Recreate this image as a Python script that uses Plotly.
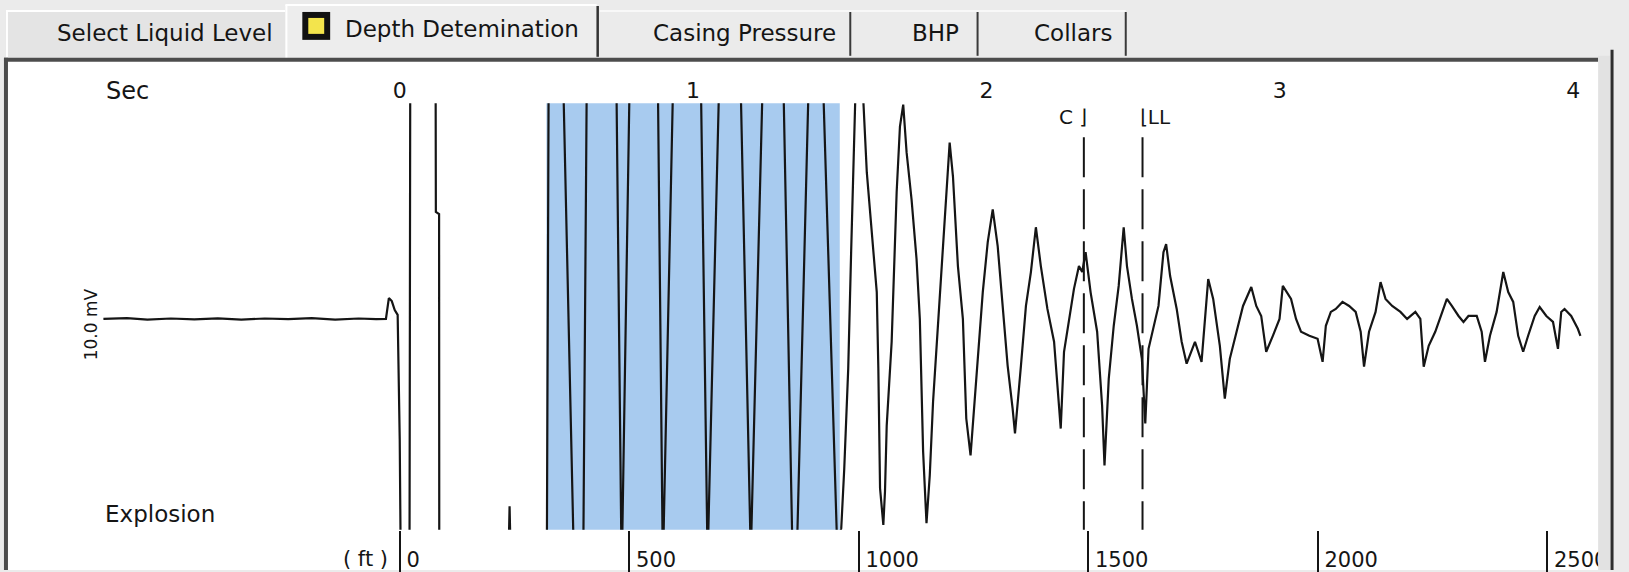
import plotly.graph_objects as go

W, H = 1629, 572

# ---------------- data ----------------
time_s = [
    -1.010, -0.930, -0.860, -0.780, -0.700, -0.620, -0.540, -0.460, -0.380, -0.300,
    -0.220, -0.140, -0.080, -0.047,
    -0.037, -0.027, -0.017, -0.007, 0.000, 0.005,
    0.020, 0.0335, 0.0358, 0.080, 0.1225, 0.1232, 0.1342, 0.1348,
    0.250, 0.372, 0.3745, 0.377, 0.440,
    0.5017, 0.5075, 0.533, 0.5583, 0.5922, 0.609, 0.6261, 0.6373, 0.688, 0.7390,
    0.7545, 0.7565, 0.7585, 0.7831, 0.832, 0.8803, 0.8960, 0.8973, 0.8990, 0.9312,
    0.979, 1.0271, 1.0485, 1.0498, 1.0512, 1.0881, 1.125, 1.1627, 1.1955, 1.1966,
    1.1980, 1.2363, 1.272, 1.3085, 1.3380, 1.3465, 1.3549, 1.3932, 1.419, 1.4441,
    1.4905, 1.4950,
    1.5051, 1.5153, 1.5288, 1.5390, 1.5525, 1.5660, 1.5807, 1.5922, 1.6034, 1.6146,
    1.6261, 1.6315, 1.6373, 1.6485,
    1.6542, 1.6600, 1.6769, 1.6939, 1.7051, 1.7163,
    1.7278, 1.7447, 1.7617, 1.7729, 1.7841, 1.7956,
    1.8068, 1.8180, 1.8349, 1.8519, 1.8634, 1.8746,
    1.8858, 1.9027, 1.9197, 1.9312, 1.9458,
    1.9536, 1.9705, 1.9875, 2.0044, 2.0214,
    2.0383, 2.0553, 2.0722, 2.0892, 2.0973,
    2.1176, 2.1346, 2.1515, 2.1685,
    2.1854, 2.2078, 2.2305, 2.2475, 2.2532,
    2.2644, 2.2814, 2.2983, 2.3153, 2.3264, 2.3380,
    2.3549, 2.3773, 2.3942, 2.4024,
    2.4169, 2.4339, 2.4508, 2.4678,
    2.4790, 2.4959, 2.5129, 2.5298, 2.5414,
    2.5525, 2.5695, 2.5864, 2.6034, 2.6125,
    2.6261, 2.6485, 2.6654, 2.6824, 2.7108, 2.7332, 2.7559, 2.7729, 2.7956, 2.8125,
    2.8295, 2.8519, 2.8746, 2.9027, 2.9197, 2.9366, 2.9536, 2.9763, 2.9990, 3.0102,
    3.0383, 3.0553, 3.0722, 3.1007, 3.1288, 3.1458, 3.1569, 3.1739, 3.1908, 3.2136,
    3.2363, 3.2586, 3.2756, 3.2871, 3.3041, 3.3264, 3.3434, 3.3603, 3.3831, 3.4112,
    3.4339, 3.4620, 3.4790, 3.4905, 3.5075, 3.5298, 3.5525, 3.5695, 3.5864, 3.6092,
    3.6261, 3.6431, 3.6712, 3.6881, 3.6993, 3.7163, 3.7390, 3.7617, 3.7786, 3.7956,
    3.8125, 3.8295, 3.8464, 3.8688, 3.8858, 3.9085, 3.9312, 3.9481, 3.9593, 3.9705,
    3.9932, 4.0159, 4.0247,
]
signal_mv = [
    -0.12, -0.08, -0.15, -0.10, -0.14, -0.09, -0.15, -0.10, -0.13, -0.08,
    -0.15, -0.10, -0.13, -0.12,
    0.86, 0.72, 0.30, 0.07, -5.75, -14.0,
    -16.0, -10.5, 10.5, 16.0, 10.5, 4.9, 4.8, -10.5,
    -16.0, -10.5, -8.9, -10.5, -16.0,
    -10.5, 10.5, 16.0, 10.5, -10.5, -16.0, -10.5, 10.5, 16.0, 10.5,
    -10.5, -12.0, -10.5, 10.5, 16.0, 10.5, -10.5, -12.0, -10.5, 10.5,
    16.0, 10.5, -10.5, -12.0, -10.5, 10.5, 16.0, 10.5, -10.5, -12.0,
    -10.5, 10.5, 16.0, 10.5, -10.5, -14.0, -10.5, 10.5, 16.0, 10.5,
    -10.5, -10.6,
    -9.93, -7.13, -2.45, 3.15, 10.02, 13.0, 10.01, 6.75, 4.88, 3.01,
    1.14, -2.45, -8.06, -9.78,
    -8.20, -5.12, -1.19, 5.82, 8.90, 9.93,
    7.69, 5.49, 2.69, -0.12, -6.33, -9.70,
    -7.45, -4.00, -0.44, 3.48, 5.82, 8.15,
    6.57, 2.36, -0.12, -4.79, -6.52,
    -5.12, -1.99, 1.14, 3.48, 5.02,
    3.29, 0.35, -2.31, -4.32, -5.49,
    -2.31, 0.49, 2.08, 4.18,
    2.36, 0.35, -1.19, -4.32, -5.26,
    -1.66, -0.12, 1.29, 2.36, 2.08, 3.01,
    1.14, -0.72, -4.18, -6.99,
    -2.92, -0.44, 1.43, 4.18,
    2.36, 0.82, -0.44, -1.99, -5.02,
    -1.52, -0.44, 0.49, 3.01, 3.39,
    1.89, 0.35, -1.19, -2.22, -1.19, -2.13, 1.75, 0.82, -1.38, -3.86,
    -1.99, -0.72, 0.49, 1.38, 0.49, 0.02, -1.66, -0.91, -0.12, 1.43,
    0.82, -0.12, -0.72, -0.91, -1.05, -2.13, -0.44, 0.21, 0.35, 0.68,
    0.49, 0.21, -0.72, -2.36, -0.72, 0.21, 1.61, 0.82, 0.49, 0.21,
    -0.12, 0.21, -0.12, -2.36, -1.38, -0.72, 0.21, 0.82, 0.49, 0.02,
    -0.26, 0.02, 0.02, -0.72, -2.13, -0.91, 0.21, 2.08, 1.14, 0.68,
    -0.91, -1.66, -0.91, 0.02, 0.44, 0.02, -0.26, -1.52, 0.21, 0.35,
    0.02, -0.58, -0.91,
]

sec_ticks = [0, 1, 2, 3, 4]
depth_ticks_ft = [0, 500, 1000, 1500, 2000, 2500]
depth_tick_labels = ["0", "500", "1000", "1500", "2000", "2500"]
acoustic_velocity_ft_s = 1278.4           # round trip -> depth = v * t / 2
marker_labels = ["C", "LL"]
marker_times_s = [2.332, 2.532]
marker_top_mv = 8.4
selection_window_s = [0.5, 1.5]
tab_labels = ["Select Liquid Level", "Depth Detemination", "Casing Pressure", "BHP", "Collars"]

# ---------------- layout helpers ----------------
def px(x):
    return x / W

def py(y):
    return 1 - y / H

FONT = "DejaVu Sans"
INK = "#151515"

x_range = [-1.332, 4.085]
y_range = [-10.0, 10.0]
depth_range = [t * acoustic_velocity_ft_s / 2 for t in x_range]
y_dom = [py(531.5), py(103.5)]

fig = go.Figure()

fig.add_trace(go.Scatter(
    x=time_s, y=signal_mv, mode="lines",
    line=dict(color=INK, width=2.2), hoverinfo="skip", showlegend=False,
))

for t in marker_times_s:
    fig.add_trace(go.Scatter(
        x=[t, t], y=[marker_top_mv, y_range[0] - 0.5], mode="lines",
        line=dict(color=INK, width=2, dash="40px,12px"),
        hoverinfo="skip", showlegend=False,
    ))

# carrier trace for the depth axis
fig.add_trace(go.Scatter(
    x=depth_range, y=[None, None], xaxis="x2", yaxis="y",
    mode="lines", hoverinfo="skip", showlegend=False,
))

shapes = []
# white panel
shapes.append(dict(type="rect", xref="paper", yref="paper", layer="below",
                   x0=px(8), x1=px(1608), y0=py(572), y1=py(61),
                   fillcolor="white", line=dict(width=0)))
# selection window
shapes.append(dict(type="rect", xref="x", yref="y domain", layer="below",
                   x0=selection_window_s[0], x1=selection_window_s[1], y0=0, y1=1,
                   fillcolor="#a8cbef", line=dict(width=0)))
# tabs
shapes.append(dict(type="rect", xref="paper", yref="paper", layer="below",
                   x0=px(6), x1=px(287), y0=py(58), y1=py(11),
                   fillcolor="#e4e4e4", line=dict(width=0)))
shapes.append(dict(type="line", xref="paper", yref="paper", layer="below",
                   x0=px(6), x1=px(287), y0=py(11), y1=py(11),
                   line=dict(color="white", width=2)))
shapes.append(dict(type="line", xref="paper", yref="paper", layer="below",
                   x0=px(7), x1=px(7), y0=py(11), y1=py(58),
                   line=dict(color="white", width=2)))
shapes.append(dict(type="rect", xref="paper", yref="paper", layer="below",
                   x0=px(287), x1=px(602), y0=py(60), y1=py(4),
                   fillcolor="#ededed", line=dict(width=0)))
shapes.append(dict(type="line", xref="paper", yref="paper", layer="below",
                   x0=px(287), x1=px(600), y0=py(5), y1=py(5),
                   line=dict(color="white", width=2)))
shapes.append(dict(type="line", xref="paper", yref="paper", layer="below",
                   x0=px(288), x1=px(288), y0=py(5), y1=py(58),
                   line=dict(color="white", width=2)))
shapes.append(dict(type="line", xref="paper", yref="paper", layer="below",
                   x0=px(601), x1=px(601), y0=py(6), y1=py(57),
                   line=dict(color="#333333", width=2.5)))
for sx in [855, 983, 1132]:
    shapes.append(dict(type="line", xref="paper", yref="paper", layer="below",
                       x0=px(sx), x1=px(sx), y0=py(12), y1=py(56),
                       line=dict(color="#3a3a3a", width=2)))
shapes.append(dict(type="line", xref="paper", yref="paper", layer="below",
                   x0=px(603), x1=px(1132), y0=py(11), y1=py(11),
                   line=dict(color="#f8f8f8", width=2)))
# tab icon
shapes.append(dict(type="rect", xref="paper", yref="paper", layer="below",
                   x0=px(304), x1=px(332), y0=py(40), y1=py(12),
                   fillcolor="#111111", line=dict(width=0)))
shapes.append(dict(type="rect", xref="paper", yref="paper", layer="below",
                   x0=px(310), x1=px(326), y0=py(34), y1=py(18),
                   fillcolor="#f3e44c", line=dict(width=0)))
# frame (above)
shapes.append(dict(type="line", xref="paper", yref="paper", layer="above",
                   x0=px(4), x1=px(1607), y0=py(60), y1=py(60),
                   line=dict(color="#4c4c4c", width=4)))
shapes.append(dict(type="line", xref="paper", yref="paper", layer="above",
                   x0=px(6), x1=px(6), y0=py(58), y1=py(572),
                   line=dict(color="#4c4c4c", width=4)))
shapes.append(dict(type="rect", xref="paper", yref="paper", layer="above",
                   x0=px(1607), x1=px(1619), y0=py(572), y1=py(56),
                   fillcolor="#e2e2e2", line=dict(width=0)))
shapes.append(dict(type="line", xref="paper", yref="paper", layer="above",
                   x0=px(1621), x1=px(1621), y0=py(50), y1=py(572),
                   line=dict(color="#2e2e2e", width=3)))
shapes.append(dict(type="rect", xref="paper", yref="paper", layer="above",
                   x0=px(1623), x1=px(1629), y0=py(572), y1=py(0),
                   fillcolor="#ebebeb", line=dict(width=0)))

annotations = []
tab_pos = [(166, 33), (465, 29), (749, 33), (941, 33), (1079, 33)]
for lab, (tx, ty) in zip(tab_labels, tab_pos):
    annotations.append(dict(text=lab, xref="paper", yref="paper",
                            x=px(tx), y=py(ty), showarrow=False,
                            xanchor="center", yanchor="middle",
                            font=dict(family=FONT, size=23, color=INK)))

def note(text, x, y, size, angle=0):
    return dict(text=text, xref="paper", yref="paper", x=px(x), y=py(y),
                xanchor="center", yanchor="middle", showarrow=False,
                textangle=angle, font=dict(family=FONT, size=size, color=INK))

annotations.append(note("Sec", 128, 91, 24))
annotations.append(note("Explosion", 161, 516, 23))
annotations.append(note("10.0 mV", 91, 325, 17, -90))
annotations.append(note("( ft )", 368, 561, 21))
for lab, t in zip(marker_labels, marker_times_s):
    if lab == "C":
        annotations.append(dict(text="C \u230b", xref="x", yref="paper", x=t, y=py(117),
                                xanchor="right", yanchor="middle", xshift=5, showarrow=False,
                                font=dict(family=FONT, size=20, color=INK)))
    else:
        annotations.append(dict(text="\u230a" + lab, xref="x", yref="paper", x=t, y=py(117),
                                xanchor="left", yanchor="middle", xshift=-5, showarrow=False,
                                font=dict(family=FONT, size=20, color=INK)))

fig.update_layout(
    width=W, height=H,
    margin=dict(l=0, r=0, t=0, b=0),
    paper_bgcolor="#ebebeb",
    plot_bgcolor="rgba(0,0,0,0)",
    showlegend=False,
    hovermode=False,
    shapes=shapes,
    annotations=annotations,
    xaxis=dict(
        domain=[px(9), px(1607)], range=x_range, side="top", anchor="y",
        tickvals=sec_ticks, ticktext=[str(s) for s in sec_ticks],
        ticks="", showline=False, showgrid=False, zeroline=False,
        tickfont=dict(family=FONT, size=22, color=INK),
        fixedrange=True,
    ),
    xaxis2=dict(
        overlaying="x", anchor="free", position=y_dom[0], side="bottom",
        range=depth_range, tickvals=depth_ticks_ft, ticktext=depth_tick_labels,
        ticks="outside", ticklen=41, tickwidth=1.6, tickcolor=INK,
        ticklabelposition="outside right", ticklabelstandoff=11, ticklabelshift=6,
        showline=False, showgrid=False, zeroline=False,
        tickfont=dict(family=FONT, size=21, color=INK),
        fixedrange=True,
    ),
    yaxis=dict(domain=y_dom, range=y_range, visible=False, fixedrange=True),
)

fig.write_html(
    "out.html",
    config={"displayModeBar": False},
    post_script="document.body.style.margin='0px';document.body.style.overflow='hidden';",
)
